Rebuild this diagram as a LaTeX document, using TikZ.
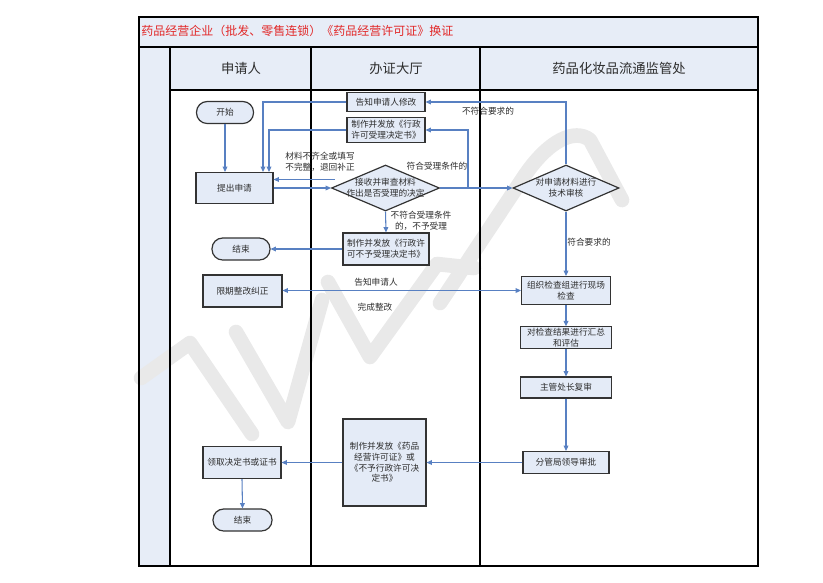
\documentclass[tikz,border=0pt]{standalone}
\usepackage{fontspec}
\setmainfont{Noto Sans CJK SC}
\usetikzlibrary{arrows.meta,shapes.geometric,calc}
\definecolor{lanefill}{RGB}{231,237,247}
\definecolor{boxfill}{RGB}{228,235,247}
\definecolor{flow}{RGB}{88,128,194}
\definecolor{wm}{RGB}{233,233,233}
\definecolor{titlered}{RGB}{226,40,40}
\definecolor{txt}{RGB}{45,45,45}
\begin{document}
\begin{tikzpicture}[x=0.75pt,y=-0.75pt,
  sz/.style 2 args={minimum width={#1*0.75pt}, minimum height={#2*0.75pt}},
  box/.style={draw=black!80, line width=0.9pt, fill=boxfill, inner sep=1pt, align=center,
    font=\fontsize{6.5pt}{8pt}\selectfont, text=txt},
  term/.style={box, rounded corners=8pt},
  dia/.style={draw=black!80, line width=0.9pt, fill=boxfill, diamond, inner sep=0pt},
  lbl/.style={font=\fontsize{6.5pt}{8pt}\selectfont, text=txt, align=center, inner sep=0pt},
  head/.style={font=\fontsize{10pt}{12pt}\selectfont, text=txt},
  arr/.style={draw=flow, line width=0.8pt, -{Triangle[length=4pt,width=3.6pt]}},
  lane/.style={draw=black, line width=1.1pt},
  wmark/.style={draw=wm, line width=11pt, line cap=round, line join=round}
]
\useasboundingbox (0,0) rectangle (823,582);
% lane fills
\fill[lanefill] (139,17) rectangle (758,90);
\fill[lanefill] (139,90) rectangle (170,566);
% watermark
\draw[wmark] (141,378) -- (190,343) -- (252,434);
\draw[wmark] (236,332) -- (288,422) -- (322,300);
\draw[wmark] (328,282) -- (370,357) -- (437,264) -- (474,268);
\draw[wmark] (440,303) -- (523,178) .. controls (548,140) and (575,128) .. (590,140) -- (622,200);
% lane lines
\draw[lane] (139,17) rectangle (758,566);
\draw[lane] (139,47) -- (758,47);
\draw[lane] (170,90) -- (758,90);
\draw[lane] (170,47) -- (170,566);
\draw[lane] (311,47) -- (311,566);
\draw[lane] (480,47) -- (480,566);
% title and headers
\node[anchor=west, text=titlered, font=\fontsize{9pt}{11pt}\selectfont, inner sep=0pt] (title) at (141,31) {药品经营企业（批发、零售连锁）《药品经营许可证》换证};
\node[head] (h1) at (241,68) {申请人};
\node[head] (h2) at (396,68) {办证大厅};
\node[head] (h3) at (619,68) {药品化妆品流通监管处};
% nodes: applicant lane
\node[term, sz={57}{22}] (start) at (225,112.5) {开始};
\node[box, sz={77}{31}] (apply) at (234.5,188) {提出申请};
\node[term, sz={58}{22}] (end1) at (241,249) {结束};
\node[box, sz={79}{32}] (fix) at (242.5,291) {限期整改纠正};
\node[box, sz={78}{32}] (get) at (242,462.5) {领取决定书或证书};
\node[term, sz={59}{22}] (end2) at (242.5,520) {结束};
% hall lane
\node[box, sz={78}{19}] (notify) at (386,102) {告知申请人修改};
\node[box, sz={78}{25}] (accept) at (386,130) {制作并发放《行政\\许可受理决定书》};
\node[dia, sz={108}{46}, label={[lbl]center:{接收并审查材料\\作出是否受理的决定}}] (d1) at (385.5,188) {};
\node[box, sz={86}{32}] (reject) at (386,249) {制作并发放《行政许\\可不予受理决定书》};
\node[box, sz={83}{87}] (issue) at (384.5,462.5) {制作并发放《药品\\经营许可证》或\\《不予行政许可决\\定书》};
% supervision lane
\node[dia, sz={106}{46}, label={[lbl]center:{对申请材料进行\\技术审核}}] (d2) at (566,188) {};
\node[box, sz={89}{28}] (inspect) at (566,290.5) {组织检查组进行现场\\检查};
\node[box, sz={91}{21}] (summary) at (566,337.5) {对检查结果进行汇总\\和评估};
\node[box, sz={91}{21}] (review) at (566,387.5) {主管处长复审};
\node[box, sz={86}{22}] (approve) at (566,462.5) {分管局领导审批};
% connectors
\draw[arr] (start.south) -- (start.south |- apply.north);
\draw[arr] (notify.west) -| ($(apply.north)+(28.5,0)$);
\draw[arr] (accept.west) -| ($(apply.north)+(34.5,0)$);
\draw[arr] ($(d1.west)+(4,-8.5)$) -- ($(apply.east)+(0,-8.5)$);
\draw[arr] (apply.east) -- (d1.west);
\draw[arr] (d1.east) -- (d2.west);
\coordinate (br) at (468,188);
\draw[arr] (br) |- (accept.east);
\draw[arr] (d2.north) |- (notify.east);
\draw[arr] (d1.south) -- (reject.north);
\draw[arr] (reject.west) -- (end1.east);
\draw[arr] (d2.south) -- (inspect.north);
\draw[arr, {Triangle[length=4pt,width=3.6pt]}-{Triangle[length=4pt,width=3.6pt]}] (inspect.west) -- (inspect.west -| fix.east);
\draw[arr] (inspect.south) -- (summary.north);
\draw[arr] (summary.south) -- (review.north);
\draw[arr] (review.south) -- (approve.north);
\draw[arr] (approve.west) -- (issue.east);
\draw[arr] (issue.west) -- (get.east);
\draw[arr] (get.south) -- (end2.north);
% labels
\node[lbl] (l1) at (320,162) {材料不齐全或填写\\不完整，退回补正};
\node[lbl] (l2) at (437,166) {符合受理条件的};
\node[lbl] (l3) at (421,221) {不符合受理条件\\的，不予受理};
\node[lbl] (l4) at (488,111) {不符合要求的};
\node[lbl] (l5) at (589,242) {符合要求的};
\node[lbl] (l6) at (376,282) {告知申请人};
\node[lbl] (l7) at (375,307) {完成整改};
\end{tikzpicture}
\end{document}
